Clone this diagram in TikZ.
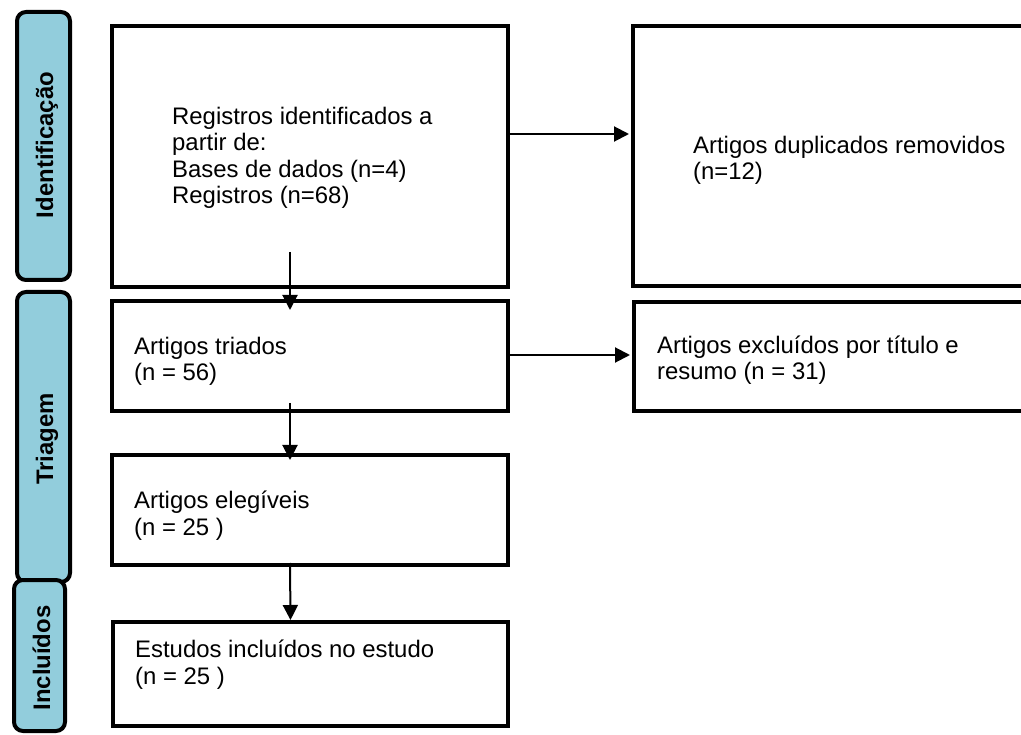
\documentclass[tikz,border=0pt]{standalone}
\usepackage{fontspec}
\setmainfont{Liberation Sans}
\usetikzlibrary{arrows.meta}
\definecolor{tabblue}{RGB}{146,205,220}
\begin{document}
\begin{tikzpicture}[x=1pt,y=-1pt,
  box/.style={draw, line width=4pt, rectangle, inner sep=0pt},
  tab/.style={draw, line width=4pt, rectangle, rounded corners=9pt, fill=tabblue, inner sep=0pt},
  tablabel/.style={font=\fontsize{23.9}{23}\selectfont\bfseries, rotate=90, anchor=base, inner sep=0pt},
  txt/.style={font=\fontsize{23.9}{26.5}\selectfont, align=left, anchor=base west, inner sep=0pt},
  arr/.style={line width=2pt, -{Triangle[length=15pt,width=15pt]}}]
\useasboundingbox (0,0) rectangle (1021,735);
\begin{scope}
\clip (0,0) rectangle (1021,735);
% side tabs
\node[tab, minimum width=53pt, minimum height=268pt] (tabI) at (43.5,146) {};
\node[tab, minimum width=53pt, minimum height=290pt] (tabT) at (43.5,437) {};
\node[tab, minimum width=51pt, minimum height=151pt] (tabC) at (39.5,655.5) {};
\node[tablabel] (lI) at (53,145) {Identificação};
\node[tablabel] (lT) at (53,439) {Triagem};
\node[tablabel] (lC) at (50,658) {Incluídos};
% boxes
\node[box, minimum width=396pt, minimum height=261pt] (b1) at (310,156.5) {};
\node[box, minimum width=427pt, minimum height=260pt] (b1r) at (846.5,156) {};
\node[box, minimum width=396pt, minimum height=110pt] (b2) at (310,356) {};
\node[box, minimum width=426pt, minimum height=109pt] (b2r) at (847,356.5) {};
\node[box, minimum width=396pt, minimum height=110pt] (b3) at (310,510) {};
\node[box, minimum width=395pt, minimum height=104pt] (b4) at (310.5,674) {};
% texts (anchor = baseline of the last line)
\node[txt] (t1) at (172,204) {Registros identificados a\\partir de:\\Bases de dados (n=4)\\Registros (n=68)};
\node[txt] (t1r) at (693,180) {Artigos duplicados removidos\\(n=12)};
\node[txt] (t2) at (134,381) {Artigos triados\\(n = 56)};
\node[txt] (t2r) at (657,380) {Artigos excluídos por título e\\resumo (n = 31)};
\node[txt] (t3) at (134,535) {Artigos elegíveis\\(n = 25 )};
\node[txt] (t4) at (135,684) {Estudos incluídos no estudo\\(n = 25 )};
% arrows
\draw[arr] ([yshift=22.5pt]b1.east) -- ([yshift=22pt,xshift=-2pt]b1r.west);
\draw[arr] ([yshift=1pt]b2.east) -- ([yshift=1.5pt,xshift=-2pt]b2r.west);
\draw[arr] ([xshift=-20pt,yshift=37pt]b1.south) -- ([xshift=-20pt,yshift=-11pt]b2.north);
\draw[arr] ([xshift=-20pt,yshift=10pt]b2.south) -- ([xshift=-20pt,yshift=-7pt]b3.north);
\draw[arr] ([xshift=-20pt,yshift=4pt]b3.south) -- ([xshift=-20pt]b4.north);
\end{scope}
\end{tikzpicture}
\end{document}
